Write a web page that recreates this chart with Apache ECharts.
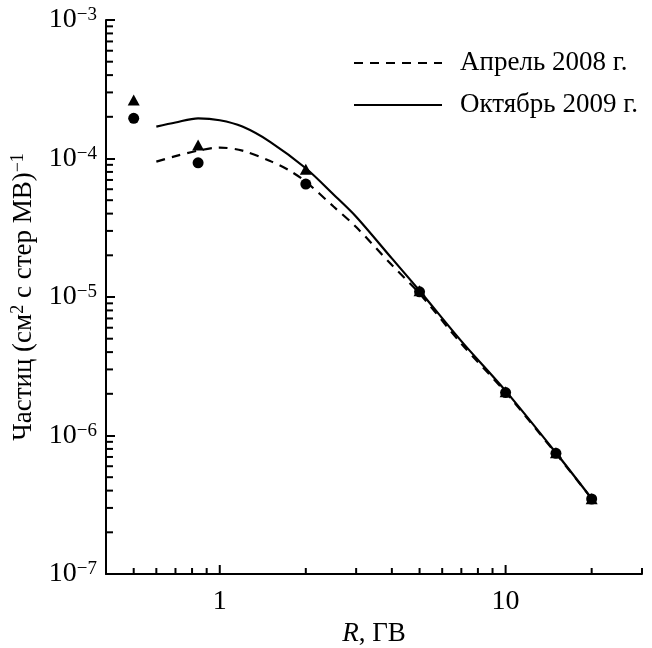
<!DOCTYPE html>
<html>
<head>
<meta charset="utf-8">
<script src="https://cdn.jsdelivr.net/npm/echarts@6/dist/echarts.min.js"></script>
<style>html,body{margin:0;padding:0;background:#fff}#c{width:652px;height:648px}</style>
</head>
<body>
<div id="c"></div>
<script>
// ---- data ----
const pointsR = [0.5, 0.84, 2, 5, 10, 15, 20];
const circleVals = [1.95e-4, 0.93e-4, 0.654e-4, 1.09e-5, 2.04e-6, 0.743e-6, 0.348e-6];
const triangleVals = [2.64e-4, 1.25e-4, 0.836e-4, 1.11e-5, 2.07e-6, 0.75e-6, 0.35e-6];

const aprilR = [0.6, 0.7, 0.84, 1, 1.2, 1.5, 1.75, 2, 2.5, 3, 4, 5, 7, 10, 15, 20];
const aprilVals = [0.95e-4, 1.04e-4, 1.14e-4, 1.20e-4, 1.14e-4, 0.96e-4, 0.82e-4, 0.68e-4, 0.45e-4, 0.32e-4, 1.7e-5, 1.06e-5, 4.6e-6, 2.05e-6, 0.74e-6, 0.35e-6];

const octR = [0.6, 0.7, 0.84, 1, 1.2, 1.5, 2, 2.5, 3, 4, 5, 7, 10, 15, 20];
const octVals = [1.70e-4, 1.82e-4, 1.95e-4, 1.89e-4, 1.70e-4, 1.32e-4, 0.85e-4, 5.5e-5, 3.8e-5, 1.9e-5, 1.11e-5, 4.8e-6, 2.1e-6, 0.75e-6, 0.35e-6];

const seriesNames = ['Апрель 2008 г.', 'Октябрь 2009 г.'];

const xMin = 0.4, xMax = 30, yMin = 1e-7, yMax = 1e-3;
const xMajorTicks = [1, 10];
const xTickLabels = ['1', '10'];
const xMinorTicks = [0.5, 0.6, 0.7, 0.8, 0.9, 2, 3, 4, 5, 6, 7, 8, 9, 20, 30];
const yDecades = [1e-7, 1e-6, 1e-5, 1e-4];
const yMinorMultipliers = [2, 3, 4, 5, 6, 7, 8, 9];

// ---- build tick data ----
const tickData = [];
xMajorTicks.forEach((v, i) => tickData.push([v, yMin, 0, i]));
xMinorTicks.forEach(v => tickData.push([v, yMin, 1, -1]));
yDecades.forEach(d => yMinorMultipliers.forEach(m => tickData.push([xMin, d * m, 3, -1])));

const FONT = '"Liberation Serif", "Times New Roman", serif';

function renderTick(params, api) {
  const kind = api.value(2);
  const style = { stroke: '#000', lineWidth: 2 };
  if (kind < 2) {
    const p = api.coord([api.value(0), yMin]);
    const len = kind === 0 ? 9 : 6;
    const children = [{ type: 'line', shape: { x1: p[0], y1: p[1], x2: p[0], y2: p[1] - len }, style }];
    if (kind === 0) {
      children.push({
        type: 'text',
        style: { text: xTickLabels[api.value(3)], x: p[0], y: p[1] + 28, align: 'center', verticalAlign: 'middle',
          font: '28px ' + FONT, fill: '#000' }
      });
    }
    return { type: 'group', children };
  } else {
    const p = api.coord([xMin, api.value(1)]);
    return { type: 'line', shape: { x1: p[0], y1: p[1], x2: p[0] + 7, y2: p[1] }, style };
  }
}

const chart = echarts.init(document.getElementById('c'), null, { renderer: 'canvas' });
chart.setOption({
  animation: false,
  backgroundColor: '#fff',
  grid: { left: 106, right: 10, top: 20, bottom: 74, containLabel: false, outerBoundsMode: 'none' },
  legend: {
    orient: 'vertical', left: 348, top: 43,
    itemWidth: 88, itemHeight: 14, itemGap: 12,
    data: seriesNames,
    itemStyle: { opacity: 0 },
    textStyle: { fontFamily: FONT, fontSize: 27, color: '#000', padding: [0, 0, 0, 13], lineHeight: 30 }
  },
  xAxis: {
    type: 'log', logBase: 10, min: xMin, max: xMax,
    axisLine: { show: true, lineStyle: { color: '#000', width: 2 } },
    axisTick: { show: false }, axisLabel: { show: false }, splitLine: { show: false }, minorTick: { show: false },
    name: '{i|R}, ГВ', nameLocation: 'middle', nameGap: 46,
    nameTextStyle: { fontFamily: FONT, fontSize: 27, color: '#000',
      rich: { i: { fontFamily: FONT, fontSize: 27, fontStyle: 'italic', color: '#000' } } }
  },
  yAxis: {
    type: 'log', logBase: 10, min: yMin, max: yMax,
    axisLine: { show: true, lineStyle: { color: '#000', width: 2 } },
    axisTick: { show: true, inside: true, length: 9, lineStyle: { color: '#000', width: 2 } },
    splitLine: { show: false },
    axisLabel: {
      margin: 9,
      formatter: v => '{b|10}{s|−' + Math.abs(Math.round(Math.log10(v))) + '}',
      rich: {
        b: { fontFamily: FONT, fontSize: 28, color: '#000', verticalAlign: 'bottom', lineHeight: 28 },
        s: { fontFamily: FONT, fontSize: 19, color: '#000', verticalAlign: 'top', lineHeight: 28, padding: [0, 0, 12, 0] }
      }
    },
    name: 'Частиц (см{sup|2} с стер МВ){sup|−1}', nameLocation: 'middle', nameGap: 64, nameRotate: 90,
    nameTextStyle: { fontFamily: FONT, fontSize: 27, color: '#000',
      rich: { sup: { fontFamily: FONT, fontSize: 18, color: '#000', padding: [0, 0, 12, 0] } } }
  },
  series: [
    {
      name: seriesNames[0], type: 'line', smooth: 0.3, symbol: 'none',
      data: aprilR.map((r, i) => [r, aprilVals[i]]),
      lineStyle: { color: '#000', width: 2.2, type: [9, 7] }, itemStyle: { color: '#000' }, z: 2
    },
    {
      name: seriesNames[1], type: 'line', smooth: 0.3, symbol: 'none',
      data: octR.map((r, i) => [r, octVals[i]]),
      lineStyle: { color: '#000', width: 2.2, type: 'solid' }, itemStyle: { color: '#000' }, z: 2
    },
    {
      name: 'circles', type: 'scatter', symbol: 'circle', symbolSize: 11,
      data: pointsR.map((r, i) => [r, circleVals[i]]), itemStyle: { color: '#000', opacity: 1 }, z: 4
    },
    {
      name: 'triangles', type: 'scatter', symbol: 'triangle', symbolSize: [12, 11],
      data: pointsR.map((r, i) => [r, triangleVals[i]]), itemStyle: { color: '#000', opacity: 1 }, z: 3
    },
    {
      name: 'ticks', type: 'custom', renderItem: renderTick, data: tickData, clip: false,
      silent: true, z: 5
    }
  ]
});
</script>
</body>
</html>
